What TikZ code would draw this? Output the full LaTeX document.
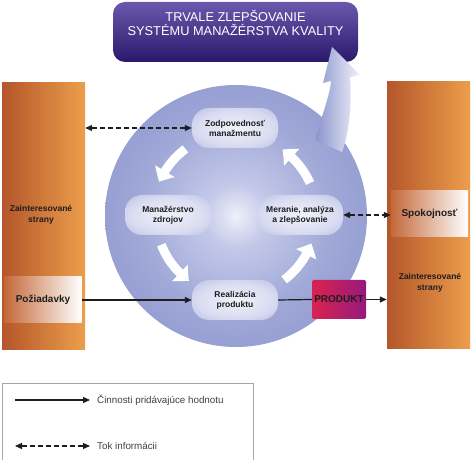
\documentclass[tikz,border=0pt]{standalone}
\usepackage{fontspec}
\setmainfont{Liberation Sans}
\usetikzlibrary{arrows.meta,bending}
\definecolor{hubA}{HTML}{EEF0FA}
\definecolor{hubB}{HTML}{C4C9E9}
\definecolor{hubC}{HTML}{A1A9D8}
\definecolor{hubM}{HTML}{8A93CD}
\definecolor{hubD}{HTML}{7580C1}
\definecolor{boxA}{HTML}{F1F2FA}
\definecolor{boxB}{HTML}{D9DCF1}
\definecolor{boxC}{HTML}{AFB6DF}
\definecolor{boxD}{HTML}{98A0D5}
\definecolor{barL}{HTML}{B4562A}
\definecolor{barR}{HTML}{EC9E4C}
\definecolor{tagL}{HTML}{C4693A}
\definecolor{banT}{HTML}{6A58AC}
\definecolor{banB}{HTML}{2A186C}
\definecolor{prodL}{HTML}{DA2250}
\definecolor{prodR}{HTML}{961A7C}
\definecolor{riseL}{HTML}{8A94CC}
\definecolor{riseR}{HTML}{F2F3FB}
\definecolor{ink}{HTML}{1E1E1E}
\pgfdeclareradialshading{hubshade}{\pgfpoint{0bp}{0bp}}{color(0bp)=(hubA); color(6bp)=(hubB); color(18bp)=(hubC); color(34bp)=(hubM); color(50bp)=(hubD)}
\pgfdeclareradialshading{boxshade}{\pgfpoint{0bp}{0bp}}{color(0bp)=(boxA); color(22bp)=(boxB); color(40bp)=(boxC); color(50bp)=(boxD)}

\begin{document}
\begin{tikzpicture}
	[x=1pt,y=1pt,
	every node/.style={inner sep=0pt,align=center},
	bar/.style={minimum width=83pt,minimum height=267pt,left color=barL,right color=barR},
	bartext/.style={font=\fontsize{8.5}{11}\selectfont\bfseries,text=ink},
	tag/.style={minimum width=77pt,minimum height=46pt,left color=tagL,right color=white,
		font=\fontsize{10}{12}\selectfont\bfseries,text=ink},
	stage/.style={rounded corners=17pt,minimum width=86pt,minimum height=40pt,shading=boxshade,
		font=\fontsize{8.5}{10}\selectfont\bfseries,text=ink},
	value/.style={draw=ink,line width=1.2pt,-{Triangle[length=7pt,width=6pt]}},
	info/.style={value,dash pattern=on 5pt off 3pt,{Triangle[length=7pt,width=6pt]}-{Triangle[length=7pt,width=6pt]}},
	cycle/.style={white,line width=9pt,-{Triangle[length=12pt,width=22pt,bend]}}]
	\useasboundingbox (0,0) rectangle (471,460);
	\node (lbar) [bar] at (43.5,243.5) {};
	\node (rbar) [bar] at (428.5,244.5) {};
	\node (ltext) [bartext] at (41,245) {Zainteresované\\strany};
	\node (rtext) [bartext] at (430,177) {Zainteresované\\strany};
	\node (ban) [minimum width=245pt,minimum height=60pt,rounded corners=12pt,top color=banT,bottom color=banB,
		text=white,font=\fontsize{12.8}{14}\selectfont] at (235.5,428) {TRVALE ZLEPŠOVANIE\\SYSTÉMU MANAŽÉRSTVA KVALITY\\[4pt]};
	\node (hub) [circle,minimum size=262pt,shading=hubshade] at (236,244) {};
	\shade [left color=riseL,right color=riseR] (315,320) .. controls (322,345) and (330,365) .. (331,379)
		-- (323,377) -- (332,413) -- (360,385) -- (350,383) .. controls (352,360) and (350,330) .. (342,308) -- cycle;
	\node (zodp) [stage] at (235,332) {Zodpovednosť\\manažmentu};
	\node (zdroje) [stage] at (168,245) {Manažérstvo\\zdrojov};
	\node (meranie) [stage] at (300,245) {Meranie, analýza\\a zlepšovanie};
	\node (realiz) [stage] at (235,160) {Realizácia\\produktu};
	\draw [cycle] ([shift={(127:84)}]hub.center) arc [start angle=127,end angle=156,radius=84];
	\draw [cycle] ([shift={(201:80)}]hub.center) arc [start angle=201,end angle=234,radius=80];
	\draw [cycle] ([shift={(-53:80)}]hub.center) arc [start angle=-53,end angle=-20,radius=80];
	\draw [cycle] ([shift={(24:81)}]hub.center) arc [start angle=24,end angle=55,radius=81];
	\node (poziad) [tag] at (43,160) {Požiadavky};
	\node (spokoj) [tag] at (429.5,246) {Spokojnosť};
	\node (produkt) [minimum width=54pt,minimum height=39pt,rounded corners=2pt,left color=prodL,right color=prodR,
		font=\fontsize{10}{12}\selectfont\bfseries,text=ink] at (339,160.5) {PRODUKT};
	\draw [info] (zodp.west) -- (zodp.west -| lbar.east);
	\draw [info] (meranie.east) -- (meranie.east -| spokoj.west);
	\draw [value] (poziad.east) -- (realiz.west);
	\draw [value,-] (realiz.east) -- (produkt.west);
	\draw [value] (produkt.east) -- (produkt.east -| rbar.west);
	\node (key) [draw=gray!70,line width=0.8pt,minimum width=251pt,minimum height=80pt] at (127.5,37) {};
	\coordinate (k1a) at (15,60);
	\coordinate (k1b) at (90,60);
	\coordinate (k2a) at (15,14);
	\coordinate (k2b) at (90,14);
	\node (k1t) [anchor=west,font=\fontsize{9.8}{12}\selectfont,text=ink!85] at (97,60) {Činnosti pridávajúce hodnotu};
	\node (k2t) [anchor=west,font=\fontsize{9.8}{12}\selectfont,text=ink!85] at (97,14) {Tok informácii};
	\draw [value] (k1a) -- (k1b);
	\draw [info] (k2a) -- (k2b);
\end{tikzpicture}
\end{document}
